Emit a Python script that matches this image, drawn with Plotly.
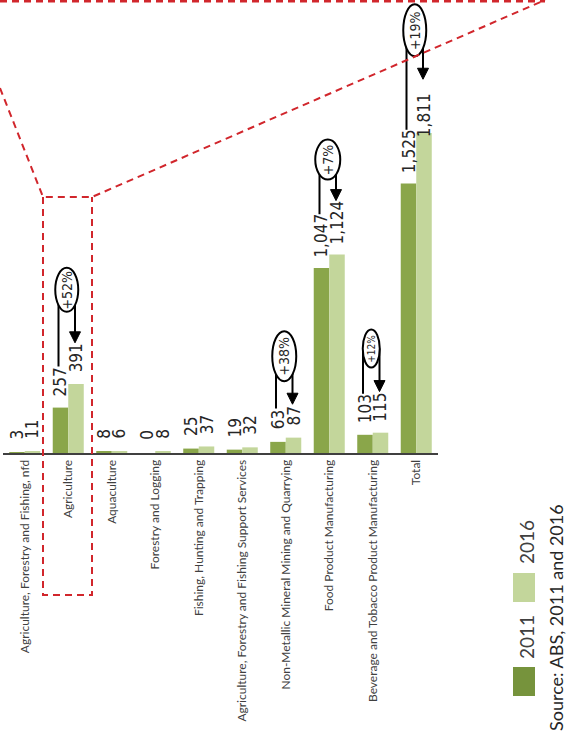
import plotly.graph_objects as go

# ---- data -------------------------------------------------------------
categories = [
    "Agriculture, Forestry and Fishing, nfd",
    "Agriculture",
    "Aquaculture",
    "Forestry and Logging",
    "Fishing, Hunting and Trapping",
    "Agriculture, Forestry and Fishing Support Services",
    "Non-Metallic Mineral Mining and Quarrying",
    "Food Product Manufacturing",
    "Beverage and Tobacco Product Manufacturing",
    "Total",
]
jobs_2011 = [3, 257, 8, 0, 25, 19, 63, 1047, 103, 1525]
jobs_2016 = [11, 391, 6, 8, 37, 32, 87, 1124, 115, 1811]
years = ["2011", "2016"]
callout_categories = [
    "Agriculture",
    "Non-Metallic Mineral Mining and Quarrying",
    "Food Product Manufacturing",
    "Beverage and Tobacco Product Manufacturing",
    "Total",
]
source_note = "Source: ABS, 2011 and 2016"

# ---- styling / geometry -------------------------------------------------
W, H = 567, 740
ML, MT = 3, 0
PW, PH = 435, 453
MR, MB = W - ML - PW, H - MT - PH
Y_MAX = 2564

C2011 = "#8AA64A"
C2016 = "#C3D69B"
LEG2011 = "#76933C"
RED = "#D1262C"
INK = "#262626"
GREY = "#404040"
NUM_FONT = "Liberation Sans Narrow, Arial Narrow, DejaVu Sans Condensed, sans-serif"
TXT_FONT = "Lato, Open Sans, sans-serif"

BARGAP = 0.287
HALF = (1 - BARGAP) / 4          # offset of each bar centre from the category centre
PX_PER_UNIT = PH / Y_MAX
CAT_PX = PW / len(categories)


def dy(px):
    return px / PX_PER_UNIT


def dx(px):
    return px / CAT_PX


def xp(px):
    return (px - ML) / PW


def yp(py):
    return (MT + PH - py) / PH


def label_len(s):
    # approximate rendered length of a rotated number label, in pixels
    return sum(7.7 if ch.isdigit() else 5 for ch in s)


label_raise = {("Total", "2016"): 0}
callout_style = {
    "Agriculture": dict(rise=53, rx=11.5, ry=22, size=14),
    "Non-Metallic Mineral Mining and Quarrying": dict(rise=48, rx=12, ry=25, size=14),
    "Food Product Manufacturing": dict(rise=41, rx=12.5, ry=20, size=14),
    "Beverage and Tobacco Product Manufacturing": dict(rise=43, rx=8.5, ry=19, size=10),
    "Total": dict(rise=49, rx=11.5, ry=26, size=14),
}

fig = go.Figure()
for yr, vals, col in [(years[0], jobs_2011, C2011), (years[1], jobs_2016, C2016)]:
    fig.add_trace(go.Bar(
        x=list(range(len(categories))), y=vals, name=yr,
        marker=dict(color=col, line=dict(width=0)),
        hoverinfo="x+y",
    ))

annotations = []
shapes = []

# value labels above each bar (rotated, centred a fixed gap above the bar)
for i, cat in enumerate(categories):
    for yr, vals, off in [(years[0], jobs_2011, -HALF), (years[1], jobs_2016, HALF)]:
        txt = f"{vals[i]:,}"
        annotations.append(dict(
            x=i + off, y=vals[i], xref="x", yref="y",
            text=txt, showarrow=False, textangle=-90,
            xanchor="center", yanchor="middle",
            yshift=label_raise.get((cat, yr), 14) + label_len(txt) / 2,
            font=dict(family=NUM_FONT, size=17, color=INK),
        ))

# growth call-outs: line from the 2011 label up to an ellipse, arrow down to 2016
for cat in callout_categories:
    i = categories.index(cat)
    st = callout_style[cat]
    v11, v16 = jobs_2011[i], jobs_2016[i]
    pct = round((v16 / v11 - 1) * 100)
    line_x = i - HALF - dx(2)
    arr_x = i + HALF - dx(1)
    line_bottom = v11 + dy(18 + label_len(f"{v11:,}"))
    tip = v16 + dy(18 + label_len(f"{v16:,}"))
    ecy = tip + dy(st["rise"])
    ecx = i - dx(1.5)
    shapes.append(dict(type="line", xref="x", yref="y", x0=line_x, x1=line_x,
                       y0=line_bottom, y1=ecy, line=dict(color="black", width=2)))
    shapes.append(dict(type="line", xref="x", yref="y", x0=arr_x, x1=arr_x,
                       y0=ecy, y1=tip + dy(9), line=dict(color="black", width=2)))
    shapes.append(dict(
        type="path", xref="x", yref="y",
        path=(f"M {arr_x - dx(5.5)} {tip + dy(11)} L {arr_x + dx(5.5)} {tip + dy(11)} "
              f"L {arr_x} {tip} Z"),
        fillcolor="black", line=dict(color="black", width=1),
    ))
    shapes.append(dict(
        type="circle", xref="x", yref="y",
        x0=ecx - dx(st["rx"]), x1=ecx + dx(st["rx"]),
        y0=ecy - dy(st["ry"]), y1=ecy + dy(st["ry"]),
        fillcolor="white", line=dict(color="black", width=2),
    ))
    annotations.append(dict(
        x=ecx, y=ecy, xref="x", yref="y", text=f"+{pct}%", showarrow=False,
        textangle=-90, xanchor="center", yanchor="middle",
        font=dict(family=NUM_FONT, size=st["size"], color=INK),
    ))

# red dashed zoom frame around Agriculture
red_line = dict(color=RED, width=2, dash="7px,5px")
shapes.append(dict(type="line", xref="paper", yref="paper",
                   x0=xp(0), x1=xp(545), y0=yp(1), y1=yp(1),
                   line=dict(color=RED, width=3, dash="7px,5px")))
shapes.append(dict(
    type="path", xref="paper", yref="paper",
    path=(f"M {xp(0)} {yp(88)} L {xp(43)} {yp(197)} L {xp(92)} {yp(197)} "
          f"L {xp(545)} {yp(0)}"),
    line=red_line,
))
shapes.append(dict(
    type="path", xref="paper", yref="paper",
    path=(f"M {xp(43)} {yp(197)} L {xp(43)} {yp(595)} L {xp(92)} {yp(595)} "
          f"L {xp(92)} {yp(197)}"),
    line=red_line,
))

# legend drawn rotated alongside the chart
shapes.append(dict(type="rect", xref="paper", yref="paper",
                   x0=xp(513), x1=xp(535), y0=yp(696), y1=yp(667),
                   fillcolor=LEG2011, line=dict(width=0)))
shapes.append(dict(type="rect", xref="paper", yref="paper",
                   x0=xp(513), x1=xp(535), y0=yp(602), y1=yp(573),
                   fillcolor=C2016, line=dict(width=0)))
for txt, py in [(years[0], 637), (years[1], 542)]:
    annotations.append(dict(
        x=xp(526), y=yp(py), xref="paper", yref="paper", text=txt,
        showarrow=False, textangle=-90, xanchor="center", yanchor="middle",
        font=dict(family=TXT_FONT, size=19, color=GREY),
    ))
annotations.append(dict(
    x=xp(556), y=yp(618), xref="paper", yref="paper", text=source_note,
    showarrow=False, textangle=-90, xanchor="center", yanchor="middle",
    font=dict(family=TXT_FONT, size=18, color=INK),
))

fig.update_layout(
    template="none",
    width=W, height=H,
    margin=dict(l=ML, r=MR, t=MT, b=MB, pad=0),
    paper_bgcolor="white", plot_bgcolor="white",
    barmode="group", bargap=BARGAP, bargroupgap=0,
    showlegend=False,
    shapes=shapes, annotations=annotations,
    xaxis=dict(
        range=[-0.5, len(categories) - 0.5],
        tickmode="array", tickvals=list(range(len(categories))), ticktext=categories,
        tickangle=-90, ticks="", showgrid=False, zeroline=False,
        showline=True, linecolor=GREY, linewidth=2, automargin=False,
        tickfont=dict(family=TXT_FONT, size=12, color=GREY),
    ),
    yaxis=dict(
        range=[0, Y_MAX], visible=False, showgrid=False, zeroline=False,
        automargin=False,
    ),
)

fig.write_html("out.html")
